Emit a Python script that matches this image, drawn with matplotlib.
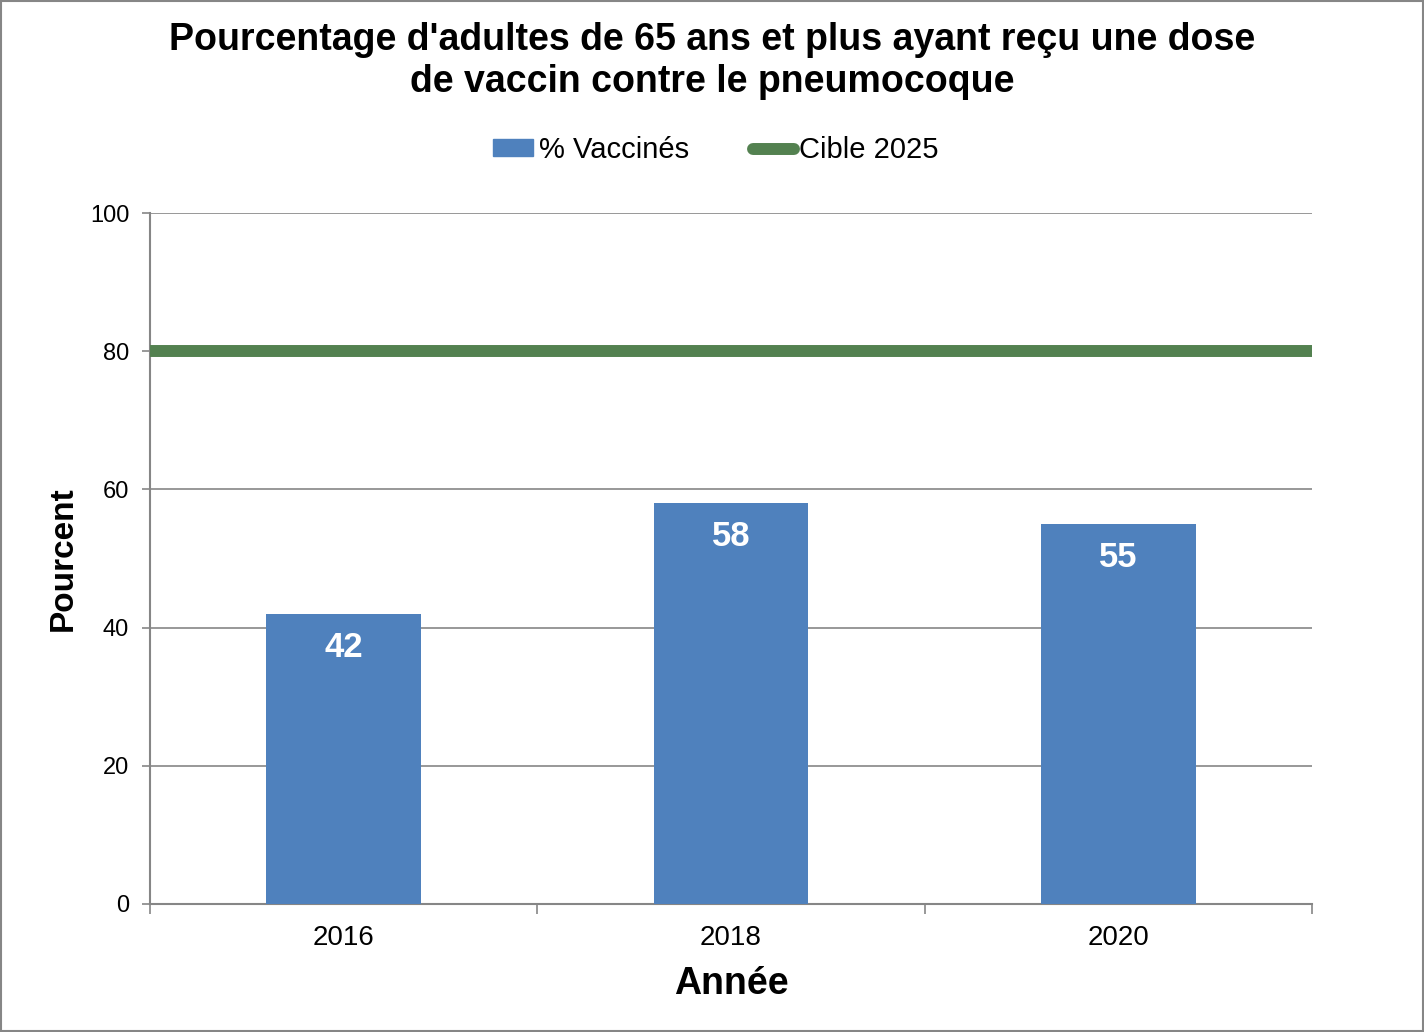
import matplotlib
matplotlib.use("Agg")
import matplotlib.pyplot as plt
from matplotlib.lines import Line2D
from matplotlib.patches import Patch, Rectangle

plt.rcParams['font.family'] = ['Liberation Sans', 'DejaVu Sans']

years = ["2016", "2018", "2020"]
vaccines = [42, 58, 55]
target = 80
title = "Pourcentage d'adultes de 65 ans et plus ayant reçu une dose\nde vaccin contre le pneumocoque"

fig = plt.figure(figsize=(14.24, 10.32), dpi=100)
ax = fig.add_axes([150/1424, 128/1032, (1312-150)/1424, (904-213)/1032])

x = list(range(len(years)))
bars = ax.bar(x, vaccines, width=0.4, color='#4f81bd', zorder=3)
ax.set_xlim(-0.5, len(years) - 0.5)
ax.set_ylim(0, 100)
ax.axhline(target, color='#538150', linewidth=8.6, solid_capstyle='butt', zorder=4)

for xi, v in zip(x, vaccines):
    ax.text(xi, v - 6.2, str(v), ha='center', va='baseline', color='white',
            fontsize=25, fontweight='bold', zorder=5)

ax.set_yticks(range(0, 101, 20))
ax.set_xticks(x)
ax.set_xticklabels(years)
ax.set_xticks([-0.5, 0.5, 1.5, 2.5], minor=True)
ax.tick_params(axis='x', which='major', length=0, labelsize=20, pad=15)
ax.tick_params(axis='x', which='minor', length=7, width=1.2, color='#868686', direction='out')
ax.tick_params(axis='y', length=6, width=1.2, color='#868686', labelsize=17, pad=9)
ax.grid(axis='y', color='#868686', linewidth=1.2, zorder=0)
for s in ['top', 'right']:
    ax.spines[s].set_visible(False)
for s in ['left', 'bottom']:
    ax.spines[s].set_color('#868686')
    ax.spines[s].set_linewidth(1.5)

ax.set_ylabel("Pourcent", fontsize=24, fontweight='bold', labelpad=8)
ax.set_xlabel("Année", fontsize=27, fontweight='bold', labelpad=11)

fig.text(0.5, 1 - 61/1032, title, ha='center', va='center', fontsize=27,
         fontweight='bold', linespacing=1.2)

handles = [Patch(color='#4f81bd', label='% Vaccinés'),
           Line2D([0], [0], color='#538150', linewidth=8.6, solid_capstyle='round', label='Cible 2025')]
fig.legend(handles=handles, loc='center', bbox_to_anchor=(716/1424, 1 - 150/1032), ncol=2,
           frameon=False, fontsize=21, handlelength=1.38, handleheight=0.5,
           handletextpad=0.2, columnspacing=2.2)

fig.patches.append(Rectangle((0.0007, 0.001), 0.9986, 0.998, transform=fig.transFigure,
                             fill=False, edgecolor='#868686', linewidth=1.5))

fig.savefig("out.png", dpi=100)
